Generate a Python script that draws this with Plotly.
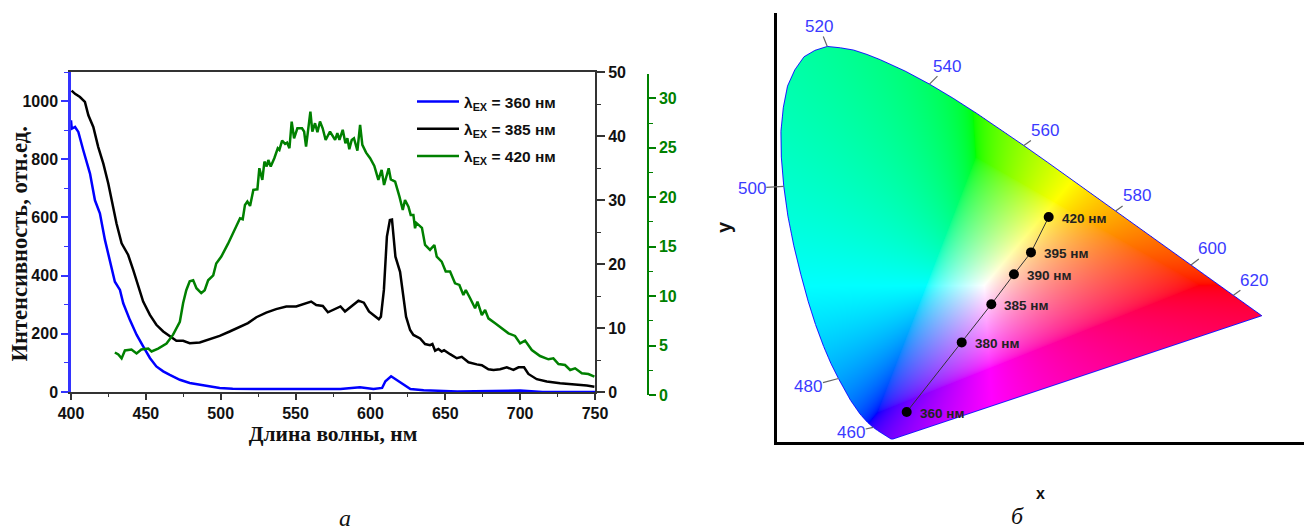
import numpy as np
import plotly.graph_objects as go

# ---------- Panel a: spectra ----------
blue_nm = [400,400.5,402.7,404.9,408.2,412.7,416,419.3,422.7,426,429.3,432.7,434.9,439.3,443.8,448.2,452.7,457,461.6,466,472.7,479.3,486,492.7,499.3,508,520,540,560,580,593,602,607.8,610,613.8,619,626.7,635.6,658,700,715,750]
blue_val = [934,905,911,894,831,751,659,614,522,454,379,351,305,248,197,157,117,88,71,59,42,31,25,19,14,11,10,10,10,10,16,10,14,37,54,37,10,6,2,5,0,0]

black_nm = [400.4,402.7,406,409.3,411.6,414.9,418.2,421.6,424.9,428.2,430.4,433.8,438.2,441.6,444.9,448.2,452.7,457,461.6,466,470.4,474.9,479.3,486,492.7,499.3,506,512.7,518.2,523.8,530.4,537,543.8,550.4,557,560.4,563.8,568.2,571.6,575,580,583,588,592,595.6,599,602,605.6,607,609,611,613,614.4,616.7,619.8,622,623.8,626.5,628.7,633.2,636.5,639.8,641.4,643.2,645.4,647.6,649.2,653.2,657.7,661,665.5,671,674.4,678.8,682.2,686.6,691.1,695.5,698.9,702.6,705.5,711.1,717.8,726.7,735.6,744.5,749.6]
black_val = [1036,1025,1014,997,951,911,842,785,717,637,579,511,471,419,362,311,265,231,208,191,176,176,168,170,182,193,208,225,237,257,273,285,294,294,305,311,299,296,274,282,294,277,299,314,307,277,265,250,259,351,534,591,593,465,413,327,259,213,196,184,165,161,165,142,148,139,144,130,116,121,102,95,92,78,76,78,85,76,85,85,62,44,36,30,27,22,18]

green_nm = [429.3,431.6,433.8,436,440.4,443.8,447,451.6,453.8,458.2,463.8,468.2,472.7,474.9,477,479.3,481.6,483.8,487,489.3,491.6,495,497,500.4,504.9,508.2,512.9,514.7,516.2,517.8,519.6,521.8,524.5,525.8,527.8,529.2,530.7,531.8,533.4,535.8,538.1,539.2,541,543,544.3,545.9,547.4,549,551.2,554.3,555.7,557,558.6,559.9,561.2,563,564.6,566.3,568.1,570.1,573,576.4,577.9,579.3,581.5,583.3,584.6,585.9,587.5,589,591.3,593.1,594.6,597.1,599.8,602.6,605.3,607.5,609.1,610.9,612.2,613.6,616.5,619.4,621.6,623.1,625.4,626.9,628.7,629.8,630.7,634.4,636.5,639.8,642.7,644.3,647.6,650.3,653.2,656.5,659.4,662.1,663.7,666.6,669.9,671.5,674.4,676.6,678.8,683.3,687.7,692.2,696.6,700,703.3,707.8,713.3,718.9,722.2,725.6,730,733.4,736.7,741.2,745.6,749.6]
green_val = [4.3,4.1,3.7,4.5,4.6,4.2,4.6,4.7,4.4,4.7,5.2,6.1,7.4,9.3,10.6,11.5,11.6,10.8,10.3,10.6,11.6,12.1,13.3,14,15.3,16.4,17.87,17.77,19.22,19.56,19.12,20.74,20.8,22.93,21.75,23.6,23.1,23.77,23.1,23.94,24.95,24.78,25.73,25.39,25.52,24.95,27.65,25.96,26.97,26.97,26.64,25.12,26.97,28.66,26.64,27.48,26.57,27.65,26.97,25.79,26.64,25.79,26.47,25.79,26.81,25.46,25.96,24.85,25.79,25.96,24.71,27.31,25.29,24.51,23.94,23.16,21.75,22.76,21.24,22.25,22.93,21.81,21.58,20.06,18.71,19.72,19.05,18.21,18.21,16.86,17.4,16.9,15.17,14.67,15.17,13.99,13.49,12.48,12.48,11.29,11.13,10.11,10.62,9.78,8.77,9.44,8.09,8.6,7.75,7.25,6.74,6.24,5.97,5.22,5.5,4.55,3.94,3.61,3.71,3.13,3.03,2.53,2.7,2.19,2.12,1.85]

legend_names = ["λ<sub>EX</sub> = 360 нм", "λ<sub>EX</sub> = 385 нм", "λ<sub>EX</sub> = 420 нм"]

# ---------- Panel б: CIE 1931 chromaticity ----------
locus_x = [.1741,.1740,.1738,.1736,.1733,.1730,.1726,.1721,.1714,.1703,.1689,.1669,.1644,.1611,.1566,.1510,.1440,.1355,.1241,.1096,.0913,.0800,.0687,.0565,.0454,.0340,.0235,.0145,.0082,.0045,.0039,.0075,.0139,.0250,.0389,.0555,.0743,.0940,.1142,.1345,.1547,.1929,.2296,.2658,.3016,.3373,.3731,.4087,.4441,.4788,.5125,.5448,.5752,.6029,.6270,.6482,.6658,.6801,.6915,.7006,.7079,.7140,.7190,.7230,.7260,.7283,.7300,.7347]
locus_y = [.0050,.0050,.0049,.0049,.0048,.0048,.0048,.0048,.0051,.0058,.0069,.0086,.0109,.0138,.0177,.0227,.0297,.0399,.0578,.0868,.1327,.1640,.2007,.2465,.2950,.3530,.4127,.4755,.5384,.6000,.6548,.7050,.7502,.7845,.8120,.8255,.8338,.8310,.8262,.8170,.8059,.7816,.7543,.7243,.6923,.6589,.6245,.5896,.5547,.5202,.4866,.4544,.4242,.3965,.3725,.3514,.3340,.3197,.3083,.2993,.2920,.2859,.2809,.2770,.2740,.2717,.2700,.2653]

tick_nm = ["460","480","500","520","540","560","580","600","620"]
tick_x = [.1440,.0913,.0082,.0743,.2296,.3731,.5125,.6270,.6915]
tick_y = [.0297,.1327,.5384,.8338,.7543,.6245,.4866,.3725,.3083]
tick_ax = [-22,-30,-32,-8,18,21,21,21,21]
tick_ay = [5,8,2,-20,-18,-15,-15,-16,-15]

pt_labels = ["360 нм","380 нм","385 нм","390 нм","395 нм","420 нм"]
pt_x = [.195,.2786,.3236,.358,.3839,.4108]
pt_y = [.062,.209,.2894,.3527,.399,.4737]

W, H = 1304, 530
SANS = "Liberation Sans"
SERIF = "Liberation Serif"
BLUE, BLACK, GREEN = "#0000ff", "#000000", "#008000"
AXBLUE = "#3333ff"

def px_x(a, b): return [a / W, b / W]
def px_y(top, bottom): return [(H - bottom) / H, (H - top) / H]

# chromaticity field, one cell per screen pixel
xr = [-0.0021, 0.7988]
yr = [-0.0013, 0.9044]
sx, sy = 1 / 658.0, 1 / 473.7
gx = np.arange(0, 0.76, sx)
gy = np.arange(0.88, -0.0, -sy)
XX, YY = np.meshgrid(gx, gy)
ZZ = 1 - XX - YY
M = np.array([[3.2406, -1.5372, -0.4986], [-0.9689, 1.8758, 0.0415], [0.0557, -0.2040, 1.0570]])
rgb = np.stack([M[i, 0] * XX + M[i, 1] * YY + M[i, 2] * ZZ for i in range(3)], axis=-1)
rgb = rgb - np.minimum(rgb.min(axis=-1, keepdims=True), 0)
rgb = rgb / np.maximum(rgb.max(axis=-1, keepdims=True), 1e-6)
rgb = np.power(rgb, 1 / 1.8)
px, py = np.array(locus_x + locus_x[:1]), np.array(locus_y + locus_y[:1])
inside = np.zeros(XX.shape, dtype=bool)
for i in range(len(px) - 1):
    x0, y0, x1, y1 = px[i], py[i], px[i + 1], py[i + 1]
    if y0 == y1:
        continue
    cond = (y0 > YY) != (y1 > YY)
    xint = x0 + (YY - y0) * (x1 - x0) / (y1 - y0)
    inside ^= cond & (XX < xint)
img = np.zeros(XX.shape + (4,), dtype=np.uint8)
img[..., :3] = np.round(rgb * 255).astype(np.uint8)
img[..., 3] = inside.astype(np.uint8) * 255

fig = go.Figure()
fig.add_trace(go.Scatter(x=blue_nm, y=blue_val, mode="lines", name=legend_names[0], legendgroup="a",
                         line=dict(color=BLUE, width=2.5), xaxis="x", yaxis="y"))
fig.add_trace(go.Scatter(x=black_nm, y=black_val, mode="lines", name=legend_names[1], legendgroup="b",
                         line=dict(color=BLACK, width=2.5), xaxis="x", yaxis="y"))
fig.add_trace(go.Scatter(x=green_nm, y=green_val, mode="lines", name=legend_names[2], legendgroup="c",
                         line=dict(color=GREEN, width=2.5), xaxis="x", yaxis="y3"))
# keeps the right-hand intensity axis alive
fig.add_trace(go.Scatter(x=[400], y=[0], mode="markers", marker=dict(opacity=0), showlegend=False,
                         hoverinfo="skip", xaxis="x", yaxis="y2"))

fig.add_trace(go.Image(z=img, colormodel="rgba256", x0=float(gx[0]), dx=sx, y0=float(gy[0]), dy=-sy,
                       xaxis="x4", yaxis="y4", hoverinfo="skip"))
fig.add_trace(go.Scatter(x=locus_x + locus_x[:1], y=locus_y + locus_y[:1], mode="lines", showlegend=False,
                         line=dict(color="#1a1aff", width=1), xaxis="x4", yaxis="y4"))
fig.add_trace(go.Scatter(x=pt_x, y=pt_y, mode="lines+markers",
                         showlegend=False, line=dict(color="#333333", width=1),
                         marker=dict(color="#000000", size=10), xaxis="x4", yaxis="y4"))

tickfont = dict(family=SANS, size=16, color="#111111", weight="bold")
fig.update_layout(
    width=W, height=H, margin=dict(l=0, r=0, t=0, b=0, autoexpand=False), autosize=False,
    paper_bgcolor="white", plot_bgcolor="rgba(0,0,0,0)", showlegend=True,
    legend=dict(x=412 / W, y=(H - 85) / H, xanchor="left", yanchor="top", bgcolor="rgba(0,0,0,0)",
                itemwidth=42, tracegroupgap=4, font=dict(family=SANS, size=15.5, color="#111111", weight="bold"),
                itemclick=False, itemdoubleclick=False),
    xaxis=dict(domain=px_x(71, 595), range=[400, 750], anchor="y", showgrid=False, zeroline=False,
               showline=True, linecolor="#333333", linewidth=2, mirror=True, ticks="outside", ticklen=6, tickwidth=1.5,
               tickcolor="#333333", dtick=50, tick0=400, tickfont=tickfont,
               minor=dict(dtick=25, ticks="outside", ticklen=3, tickwidth=1, tickcolor="#333333"),
               title=dict(text="Длина волны, нм", standoff=4, font=dict(family=SERIF, size=21.5, color="#111111", weight="bold"))),
    yaxis=dict(domain=px_y(72, 392), range=[0, 1100], anchor="x", showgrid=False, zeroline=False,
               showline=True, linecolor=AXBLUE, linewidth=2.5, ticks="outside", ticklen=7, tickwidth=1.5,
               tickcolor=AXBLUE, dtick=200, tick0=0, tickfont=tickfont,
               minor=dict(dtick=100, ticks="outside", ticklen=4, tickwidth=1, tickcolor=AXBLUE)),
    yaxis2=dict(overlaying="y", side="right", range=[0, 50], anchor="x", showgrid=False, zeroline=False,
                showline=True, linecolor="#333333", linewidth=2, ticks="outside", ticklen=8, tickwidth=1.5,
                tickcolor="#333333", dtick=10, tick0=0, tickfont=tickfont,
                minor=dict(dtick=5, ticks="outside", ticklen=4, tickwidth=1, tickcolor="#333333")),
    yaxis3=dict(domain=px_y(74, 395), range=[0, 32.46], anchor="free", position=648 / W, side="right",
                showgrid=False, zeroline=False, showline=True, linecolor=GREEN, linewidth=1.5,
                ticks="outside", ticklen=7, tickwidth=1.5, tickcolor=GREEN, dtick=5, tick0=0,
                tickfont=dict(family=SANS, size=16, color=GREEN, weight="bold"),
                minor=dict(dtick=2.5, ticks="outside", ticklen=4, tickwidth=1, tickcolor=GREEN)),
    xaxis4=dict(domain=px_x(777, 1304), range=xr, anchor="y4", showgrid=False, zeroline=False,
                showline=True, linecolor="#000000", linewidth=2.5, ticks="", showticklabels=False,
                title=dict(text="x", standoff=45, font=dict(family=SANS, size=16, color="#111111", weight="bold"))),
    yaxis4=dict(domain=px_y(13, 442), range=yr, anchor="x4", showgrid=False, zeroline=False, scaleanchor=False,
                autorange=False, showline=True, linecolor="#000000", linewidth=2.5, ticks="", showticklabels=False,
                title=dict(text="y", standoff=38, font=dict(family=SANS, size=20, color="#111111", weight="bold"))),
)

ann = [
    dict(text="Интенсивность, отн.ед.", xref="paper", yref="paper", x=19 / W, y=(H - 244.5) / H, textangle=-90,
         showarrow=False, xanchor="center", yanchor="middle",
         font=dict(family=SERIF, size=22.5, color="#111111", weight="bold")),
    dict(text="а", xref="paper", yref="paper", x=345 / W, y=(H - 518) / H, showarrow=False,
         xanchor="center", yanchor="middle", font=dict(family=SERIF, size=24, color="#111111", style="italic")),
    dict(text="б", xref="paper", yref="paper", x=1017 / W, y=(H - 516) / H, showarrow=False,
         xanchor="center", yanchor="middle", font=dict(family=SERIF, size=24, color="#111111", style="italic")),
]
for t, a, b, ax, ay in zip(tick_nm, tick_x, tick_y, tick_ax, tick_ay):
    ann.append(dict(text=t, x=a, y=b, xref="x4", yref="y4", ax=ax, ay=ay, axref="pixel", ayref="pixel",
                    showarrow=True, arrowhead=0, arrowwidth=1.2, arrowcolor="#666666", borderpad=0,
                    font=dict(family=SANS, size=17, color="#3a3aff")))
for t, a, b in zip(pt_labels, pt_x, pt_y):
    ann.append(dict(text=t, x=a, y=b, xref="x4", yref="y4", xanchor="left", yanchor="middle", showarrow=False,
                    xshift=11, yshift=-1.5, font=dict(family=SANS, size=13.5, color="#222222", weight="bold")))
fig.update_layout(annotations=ann)

fig.write_html("out.html", config=dict(displayModeBar=False), post_script="document.body.style.margin='0';")
